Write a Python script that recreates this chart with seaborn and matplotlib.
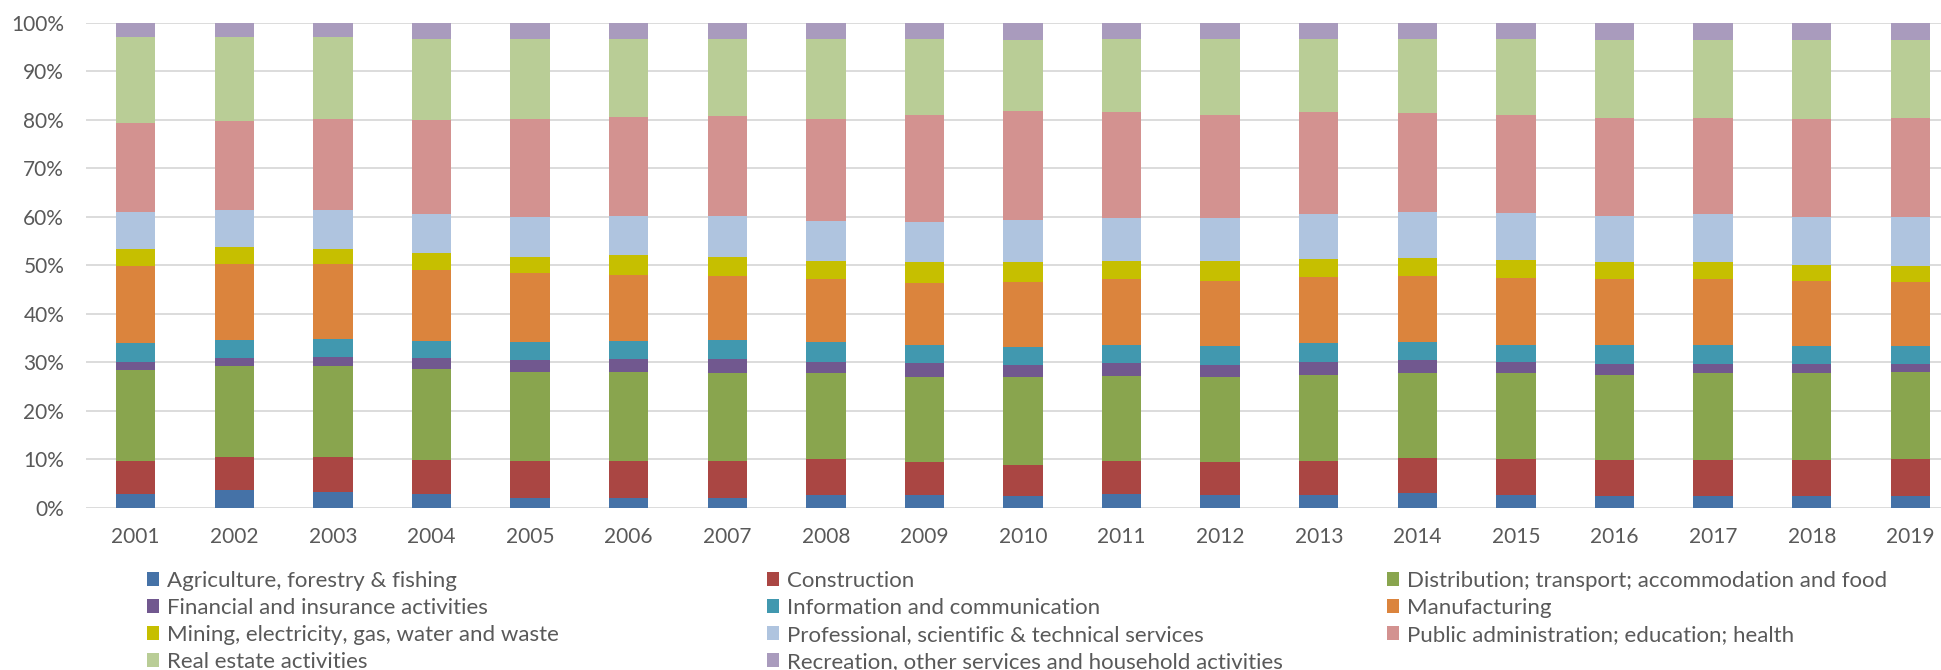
import numpy as np
import pandas as pd
import matplotlib
matplotlib.use("Agg")
import matplotlib.pyplot as plt
import seaborn as sns
from matplotlib.patches import Patch

sns.set_style("white")
plt.rcParams['font.family'] = ['Lato', 'DejaVu Sans']

years = [str(y) for y in range(2001, 2020)]

# shares (%) per sector
agriculture = [2.8, 3.6, 3.3, 2.8, 2.0, 2.0, 2.0, 2.6, 2.6, 2.3, 2.8, 2.6, 2.6, 3.0, 2.6, 2.3, 2.3, 2.3, 2.3]
construction = [6.7, 6.9, 7.2, 7.0, 7.5, 7.5, 7.5, 7.5, 6.7, 6.5, 6.7, 6.7, 6.9, 7.3, 7.5, 7.5, 7.5, 7.5, 7.8]
distribution = [18.9, 18.7, 18.7, 18.8, 18.4, 18.4, 18.2, 17.6, 17.6, 18.1, 17.7, 17.6, 17.9, 17.4, 17.6, 17.6, 17.9, 17.9, 17.8]
financial = [1.7, 1.7, 1.9, 2.3, 2.5, 2.8, 3.0, 2.4, 3.0, 2.5, 2.7, 2.5, 2.7, 2.7, 2.4, 2.2, 1.9, 1.9, 1.7]
information = [3.8, 3.7, 3.7, 3.5, 3.7, 3.7, 3.9, 4.0, 3.7, 3.7, 3.7, 4.0, 3.8, 3.7, 3.5, 4.0, 4.0, 3.8, 3.8]
manufacturing = [16.0, 15.7, 15.5, 14.7, 14.4, 13.6, 13.2, 13.0, 12.7, 13.5, 13.5, 13.4, 13.7, 13.7, 13.7, 13.5, 13.5, 13.4, 13.2]
mining = [3.5, 3.5, 3.1, 3.5, 3.3, 4.1, 4.0, 3.7, 4.3, 4.0, 3.7, 4.0, 3.7, 3.7, 3.7, 3.5, 3.5, 3.3, 3.2]
professional = [7.6, 7.7, 8.1, 7.9, 8.2, 8.1, 8.4, 8.4, 8.3, 8.8, 8.9, 8.9, 9.2, 9.5, 9.7, 9.6, 9.9, 9.9, 10.2]
public = [18.3, 18.2, 18.6, 19.4, 20.1, 20.4, 20.7, 20.9, 22.2, 22.5, 21.9, 21.4, 21.1, 20.4, 20.4, 20.2, 19.9, 20.1, 20.4]
real_estate = [17.8, 17.4, 17.0, 16.9, 16.7, 16.2, 15.9, 16.7, 15.7, 14.6, 15.2, 15.7, 15.2, 15.4, 15.7, 16.1, 16.1, 16.4, 16.1]
recreation = [2.9, 2.9, 2.9, 3.2, 3.2, 3.2, 3.2, 3.2, 3.2, 3.5, 3.2, 3.2, 3.2, 3.2, 3.2, 3.5, 3.5, 3.5, 3.5]

sectors = [
    "Agriculture, forestry & fishing",
    "Construction",
    "Distribution; transport; accommodation and food",
    "Financial and insurance activities",
    "Information and communication",
    "Manufacturing",
    "Mining, electricity, gas, water and waste",
    "Professional, scientific & technical services",
    "Public administration; education; health",
    "Real estate activities",
    "Recreation, other services and household activities",
]
colors = ["#4572A7", "#AA4643", "#89A54E", "#71588F", "#4198AF", "#DB843D",
          "#C6BF00", "#AFC4DF", "#D39290", "#B9CD96", "#A99BBD"]

shares = np.array([agriculture, construction, distribution, financial, information,
                   manufacturing, mining, professional, public, real_estate, recreation])
shares = shares / shares.sum(axis=0) * 100
cum = np.cumsum(shares, axis=0)

fig = plt.figure(figsize=(19.41, 6.70), dpi=100)
ax = fig.add_axes([86.4 / 1941, 1 - 507.5 / 670, 19 * 98.59 / 1941, 484.5 / 670])

# stacked bars: draw the cumulative totals from the top layer down
for i in reversed(range(len(sectors))):
    df = pd.DataFrame({"year": years, "value": cum[i]})
    sns.barplot(data=df, x="year", y="value", color=colors[i], width=0.4,
                saturation=1, errorbar=None, linewidth=0, ax=ax)

ax.set_xlim(-0.5, len(years) - 0.5)
ax.set_ylim(0, 100)
ax.set_yticks(range(0, 101, 10))
ax.set_yticklabels([f"{v}%" for v in range(0, 101, 10)])
ax.set_xlabel("")
ax.set_ylabel("")
ax.yaxis.grid(True, color="#D9D9D9", linewidth=1.3)
ax.set_axisbelow(True)
for s in ax.spines.values():
    s.set_visible(False)
ax.tick_params(axis="both", length=0, labelsize=15, colors="#595959")
ax.tick_params(axis="y", pad=16)
ax.tick_params(axis="x", pad=14)

handles = [Patch(facecolor=c, edgecolor="none") for c in colors]
col_x = [147, 767, 1387]
for c in range(3):
    idx = [i for i in range(len(sectors)) if i % 3 == c]
    fig.legend([handles[i] for i in idx], [sectors[i] for i in idx],
               loc="upper left", bbox_to_anchor=(col_x[c] / 1941, 1 - 571 / 670),
               frameon=False, fontsize=16, labelcolor="#595959",
               handlelength=0.55, handleheight=0.55, handletextpad=0.35,
               labelspacing=0.31, borderpad=0, borderaxespad=0)

fig.savefig("out.png", dpi=100)
